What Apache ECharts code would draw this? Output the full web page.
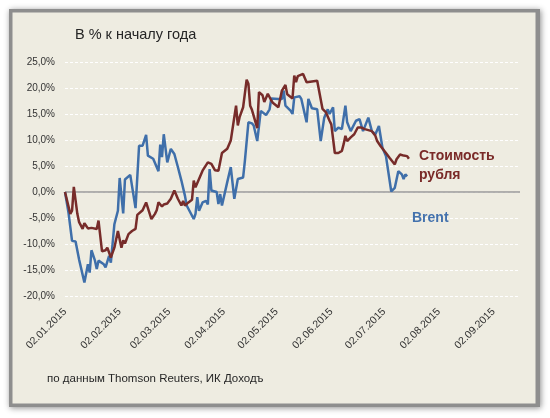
<!DOCTYPE html>
<html>
<head>
<meta charset="utf-8">
<script src="https://cdn.jsdelivr.net/npm/echarts@6/dist/echarts.min.js"></script>
<style>
html,body{margin:0;padding:0;background:#ffffff;}
#chart{width:550px;height:418px;}
</style>
</head>
<body>
<div id="chart"></div>
<script>
// ---- Data ----
var titleText = 'В % к началу года';
var sourceText = 'по данным Thomson Reuters, ИК Доходъ';
var rubleName = 'Стоимость рубля';
var brentName = 'Brent';

var xTickDates = ['2015-01-02','2015-02-02','2015-03-02','2015-04-02','2015-05-02',
                  '2015-06-02','2015-07-02','2015-08-02','2015-09-02'];
var xMin = '2015-01-02';
var xMax = '2015-09-17';
var yMin = -20, yMax = 25, yStep = 5;

var brentDates = ['2015-01-02','2015-01-04','2015-01-06','2015-01-08','2015-01-10','2015-01-13','2015-01-15','2015-01-16','2015-01-17','2015-01-19',
  '2015-01-20','2015-01-21','2015-01-24','2015-01-25','2015-01-27','2015-01-28','2015-01-30','2015-02-01','2015-02-02','2015-02-04',
  '2015-02-05','2015-02-08','2015-02-11','2015-02-13','2015-02-15','2015-02-17','2015-02-18','2015-02-21','2015-02-24','2015-02-25',
  '2015-02-26','2015-02-27','2015-03-01','2015-03-03','2015-03-05','2015-03-07','2015-03-09','2015-03-10','2015-03-11','2015-03-12',
  '2015-03-16','2015-03-17','2015-03-18','2015-03-19','2015-03-21','2015-03-23','2015-03-24','2015-03-25','2015-03-26','2015-03-29',
  '2015-03-30','2015-03-31','2015-04-01','2015-04-04','2015-04-06','2015-04-08','2015-04-10','2015-04-13','2015-04-14','2015-04-16',
  '2015-04-18','2015-04-19','2015-04-21','2015-04-23','2015-04-26','2015-04-28','2015-04-29','2015-05-03','2015-05-05','2015-05-06',
  '2015-05-07','2015-05-10','2015-05-11','2015-05-12','2015-05-15','2015-05-16','2015-05-19','2015-05-20','2015-05-22','2015-05-25',
  '2015-05-27','2015-05-29','2015-05-31','2015-06-01','2015-06-03','2015-06-04','2015-06-06','2015-06-08','2015-06-10','2015-06-11',
  '2015-06-13','2015-06-16','2015-06-18','2015-06-20','2015-06-23','2015-06-25','2015-06-27','2015-06-29','2015-07-01','2015-07-03',
  '2015-07-06','2015-07-08','2015-07-10','2015-07-12','2015-07-13','2015-07-14','2015-07-15'];
var brentValues = [0,-4,-9.4,-9.5,-13,-17.4,-13.9,-15.5,-11.2,-13.2,
  -14.8,-13.2,-13.9,-14.5,-12.3,-13.6,-6.2,-3.6,2.7,-4.1,
  2.4,3.3,-3.1,8.9,8.9,11.0,7.0,6.4,4.0,9.1,
  6.7,11.1,5.7,8.3,7.3,4.8,2.2,2.5,-0.7,-2.6,
  -5.2,-4.2,-1.0,-3.6,-2.0,-1.7,-2.4,4.4,0.3,0,
  -2.3,-0.4,-2.6,1.9,4.8,-1.3,2.5,2.8,6.0,13.4,
  13.2,12.8,9.8,15.6,14.8,15.9,18.0,17.9,17.9,19.5,
  16.6,15.6,15.0,18.2,18.4,17.9,13.4,17.9,16.1,15.9,
  9.8,14.3,15.9,15.0,16.3,11.7,12.4,12.1,16.6,13.4,
  11.7,13.7,14.0,11.7,14.3,11.7,11.1,12.7,8.5,6.9,
  0.1,0.8,4.0,3.4,2.5,3.4,3.0];

var rubleDates = ['2015-01-02','2015-01-05','2015-01-06','2015-01-07','2015-01-09','2015-01-10','2015-01-12','2015-01-13','2015-01-15','2015-01-17',
  '2015-01-20','2015-01-21','2015-01-22','2015-01-23','2015-01-25','2015-01-26','2015-01-28','2015-01-30','2015-02-01','2015-02-03',
  '2015-02-04','2015-02-05','2015-02-07','2015-02-09','2015-02-11','2015-02-12','2015-02-15','2015-02-17','2015-02-18','2015-02-20',
  '2015-02-22','2015-02-23','2015-02-24','2015-02-26','2015-02-27','2015-03-01','2015-03-03','2015-03-05','2015-03-07','2015-03-09',
  '2015-03-10','2015-03-11','2015-03-13','2015-03-15','2015-03-16','2015-03-17','2015-03-19','2015-03-21','2015-03-24','2015-03-26',
  '2015-03-28','2015-03-30','2015-04-01','2015-04-02','2015-04-04','2015-04-06','2015-04-09','2015-04-10','2015-04-11','2015-04-13',
  '2015-04-15','2015-04-16','2015-04-17','2015-04-18','2015-04-21','2015-04-22','2015-04-24','2015-04-25','2015-04-27','2015-04-29',
  '2015-04-30','2015-05-03','2015-05-05','2015-05-07','2015-05-08','2015-05-11','2015-05-12','2015-05-13','2015-05-14','2015-05-17',
  '2015-05-19','2015-05-25','2015-05-28','2015-05-30','2015-06-01','2015-06-02','2015-06-04','2015-06-06','2015-06-08','2015-06-09',
  '2015-06-10','2015-06-11','2015-06-13','2015-06-15','2015-06-17','2015-06-19','2015-06-21','2015-06-25','2015-06-27','2015-06-28',
  '2015-06-30','2015-07-01','2015-07-03','2015-07-05','2015-07-08','2015-07-09','2015-07-11','2015-07-13','2015-07-15','2015-07-16'];
var rubleValues = [0,-4.2,-3.6,1.0,-4.2,-5.8,-7.1,-6.0,-7.0,-6.9,
  -7.1,-5.5,-5.5,-11.4,-11.2,-10.7,-12.6,-10.7,-7.5,-10.7,
  -9.3,-9.9,-8.1,-7.5,-7.1,-4.4,-3.5,-2.0,-2.0,-5.2,
  -4.2,-3.5,-2.0,-2.8,-2.4,-2.2,-1.3,0.3,-1.3,-2.6,
  -1.7,-2.6,-2.0,-1.5,2.2,0.9,2.5,4.1,5.7,5.4,
  4.2,4.1,7.5,7.3,8.3,9.9,16.6,12.8,14.4,16.3,
  21.6,20.8,16.6,15.8,12.3,19.2,18.6,17.3,18.9,17.6,
  17.1,16.3,19.5,20.6,18.8,18.0,22.4,21.1,22.3,22.7,
  21.1,21.4,16.0,15.3,13.7,13.0,7.5,7.5,7.9,9.2,
  10.8,9.8,10.5,11.1,12.4,12.4,12.1,11.7,10.8,9.8,
  8.8,8.5,7.5,6.6,5.3,6.3,7.2,7.0,6.9,6.4];

// ---- helpers ----
function ts(s){ var p = s.split('-'); return Date.UTC(+p[0], +p[1]-1, +p[2]); }
function zip(d, v){ return d.map(function(x,i){ return [ts(x), v[i]]; }); }
function pad(n){ return (n<10?'0':'')+n; }
function fmtDate(t){ var d = new Date(t); return pad(d.getUTCDate())+'.'+pad(d.getUTCMonth()+1)+'.'+d.getUTCFullYear(); }
var tickTimes = xTickDates.map(ts);

var chart = echarts.init(document.getElementById('chart'), null, {renderer:'canvas'});
var FONT = '"Liberation Sans", Arial, sans-serif';
var option = {
  animation: false,
  backgroundColor: 'transparent',
  graphic: [
    { type:'rect', z:-10, shape:{x:9, y:9, width:531, height:398},
      style:{fill:'#8e8e8e', shadowBlur:6, shadowColor:'rgba(0,0,0,0.45)', shadowOffsetX:1, shadowOffsetY:1} },
    { type:'rect', z:-9, shape:{x:12.5, y:12.5, width:523, height:391},
      style:{fill:'#EEECE1'} },
    { type:'text', z:100, left:75, top:27, style:{text:titleText, font:'14.5px '+FONT, fill:'#262626'} },
    { type:'text', z:100, left:419, top:149, style:{text:'Стоимость', font:'bold 14px '+FONT, fill:'#7A2A28'} },
    { type:'text', z:100, left:419, top:168, style:{text:'рубля', font:'bold 14px '+FONT, fill:'#7A2A28'} },
    { type:'text', z:100, left:412, top:211, style:{text:brentName, font:'bold 14px '+FONT, fill:'#4472AD'} },
    { type:'text', z:100, left:47, top:373, style:{text:sourceText, font:'11.5px '+FONT, fill:'#262626'} }
  ],
  grid: { left:65, right:30, top:62, bottom:122, containLabel:false },
  xAxis: {
    type:'value',
    min: ts(xMin), max: ts(xMax),
    axisLine:{show:false},
    axisTick:{show:false},
    splitLine:{show:false},
    axisLabel:{
      customValues: tickTimes,
      rotate:45, margin:14, fontSize:10.5, fontFamily:FONT, color:'#333333',
      formatter:function(v){ return fmtDate(v); },
      hideOverlap:false, showMinLabel:true, showMaxLabel:true
    }
  },
  yAxis: {
    type:'value', min:yMin, max:yMax, interval:yStep,
    axisLine:{show:false}, axisTick:{show:false},
    axisLabel:{ fontSize:10, fontFamily:FONT, color:'#333333', margin:10,
      formatter:function(v){ return v.toFixed(1).replace('.', ',') + '%'; } },
    splitLine:{ lineStyle:{ color:'#ffffff', width:1, type:[3,2] } }
  },
  series: [
    { name: brentName, type:'line', data: zip(brentDates, brentValues), showSymbol:false,
      lineStyle:{ color:'#3F6FAA', width:2.5 }, itemStyle:{color:'#3F6FAA'}, z:3,
      markLine:{ silent:true, symbol:['none','none'], label:{show:false},
        lineStyle:{ color:'#9a9a9a', width:1.5, type:'solid' }, data:[{yAxis:0}], z:1 } },
    { name: rubleName, type:'line', data: zip(rubleDates, rubleValues), showSymbol:false,
      lineStyle:{ color:'#772C2A', width:2.5 }, itemStyle:{color:'#772C2A'}, z:4 }
  ]
};
chart.setOption(option);
</script>
</body>
</html>
